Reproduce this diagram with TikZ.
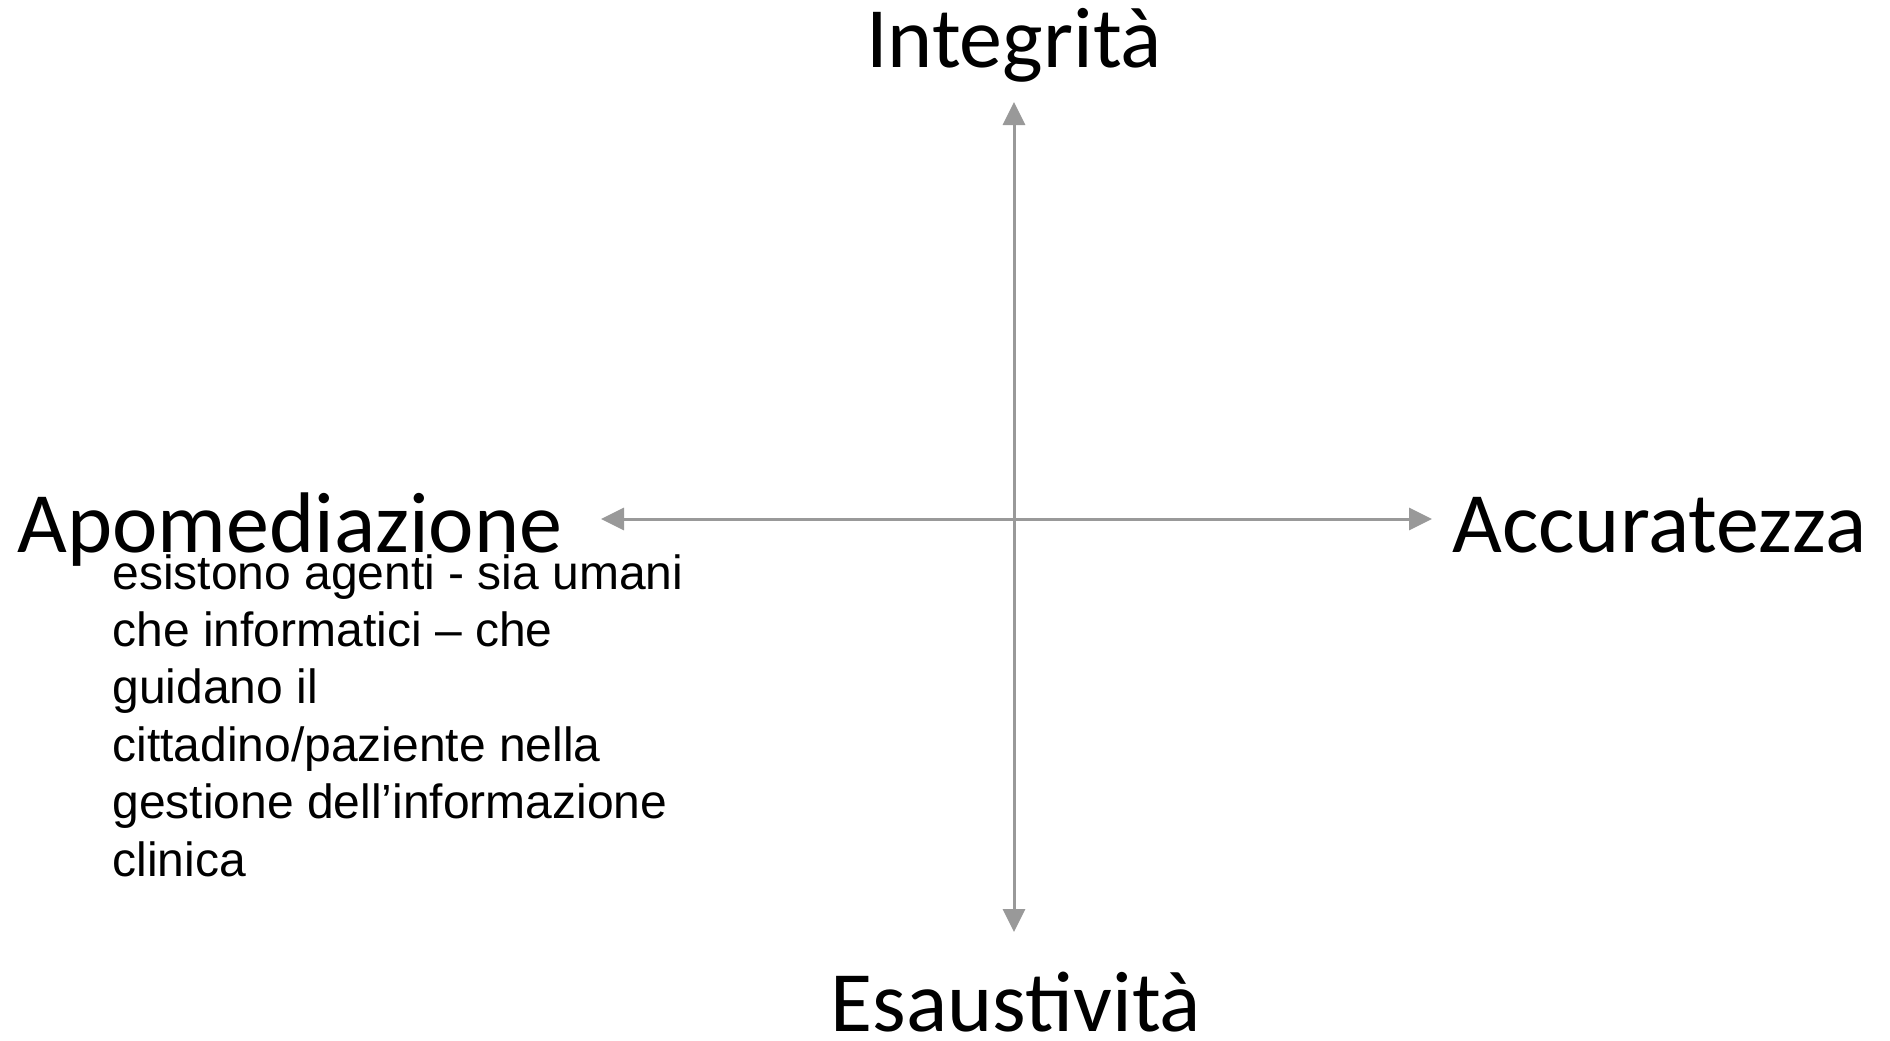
\documentclass[tikz,border=0pt]{standalone}
\usepackage{fontspec}
\usetikzlibrary{arrows.meta, positioning}

\newfontfamily\headfont{Carlito}
\newfontfamily\notefont{Liberation Sans}
\definecolor{axisgray}{RGB}{153,153,153}

\begin{document}
\begin{tikzpicture}[x=0.5pt, y=-0.5pt,
  axis/.style={axisgray, line width=1.5pt, {Triangle[length=11.5pt, width=11pt]}-{Triangle[length=11.5pt, width=11pt]}},
  pole/.style={font=\headfont\fontsize{43}{52}\selectfont, inner sep=0pt},
  note/.style={font=\notefont\fontsize{24}{28.7}\selectfont, align=left, inner sep=0pt}]

  \useasboundingbox (0,0) rectangle (1890,1040);

  \coordinate (n) at (1014,102);
  \coordinate (s) at (1014,932);
  \coordinate (w) at (601,519);
  \coordinate (e) at (1432,519);

  \node[pole, anchor=base] (integrita) at (1014,67) {Integrità};
  \node[pole, anchor=base] (esaustivita) at (1016,1031) {Esaustività};
  \node[pole, anchor=base west] (apomed) at (17,552) {Apomediazione};
  \node[pole, anchor=base west] (accur) at (1452,552) {Accuratezza};

  \node[note, anchor=base west] (desc) at (112,876) {esistono agenti - sia umani\\
    che informatici – che\\
    guidano il\\
    cittadino/paziente nella\\
    gestione dell’informazione\\
    clinica};

  \draw[axis] (w) -- (e);
  \draw[axis] (n) -- (s);

\end{tikzpicture}
\end{document}
